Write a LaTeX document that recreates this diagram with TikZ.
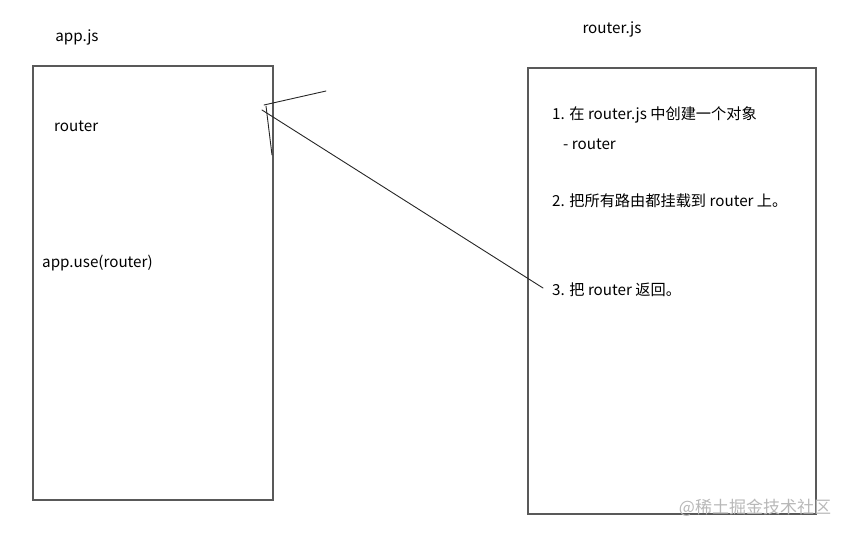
\documentclass[tikz,border=0pt]{standalone}
\usepackage{fontspec}
\setmainfont{Noto Sans CJK SC}
\usetikzlibrary{positioning}

\begin{document}
\begin{tikzpicture}[
    x=1pt, y=-1pt,
    box/.style={draw=black!65, line width=1.3pt, minimum width=#1, inner sep=0pt},
    label/.style={anchor=west, inner sep=0pt, font=\fontsize{15.2}{17}\selectfont},
    title/.style={inner sep=0pt, font=\fontsize{15.2}{17}\selectfont},
    pen/.style={draw=black!85, line width=0.9pt, line cap=round}
]
\useasboundingbox (0,0) rectangle (852,536);

% the two files
\node[box=240pt, minimum height=434pt] (app) at (153,283) {};
\node[box=288pt, minimum height=446pt] (rjs) at (672,291) {};
\node[title] (appname) at (77,37) {app.js};
\node[title] (rjsname) at (612,29) {router.js};

% app.js contents
\node[label] (approuter) at (54,126) {router};
\node[label] (appuse) at (42,263) {app.use(router)};

% router.js steps
\node[label] (step1) at (552,115) {1. 在 router.js 中创建一个对象};
\node[label] (step1b) at (563,144) {- router};
\node[label] (step2) at (552,201) {2. 把所有路由都挂载到 router 上。};
\node[label] (step3) at (552,290) {3. 把 router 返回。};

% hand drawn arrow back to app.js
\coordinate (tip) at (262,110);
\coordinate (barbA) at (326,91);
\coordinate (barbB) at (272,155);
\coordinate (barbC) at (264,105);
\draw[pen] (step3.west) ++(-9,-2) -- (tip);
\draw[pen] (barbC) -- (barbA);
\draw[pen] (barbC) ++(2,1) -- (barbB);

% watermark
\node[inner sep=0pt, text=black!28, font=\fontsize{17}{18}\selectfont] (mark) at (755,508) {@稀土掘金技术社区};
\end{tikzpicture}
\end{document}
